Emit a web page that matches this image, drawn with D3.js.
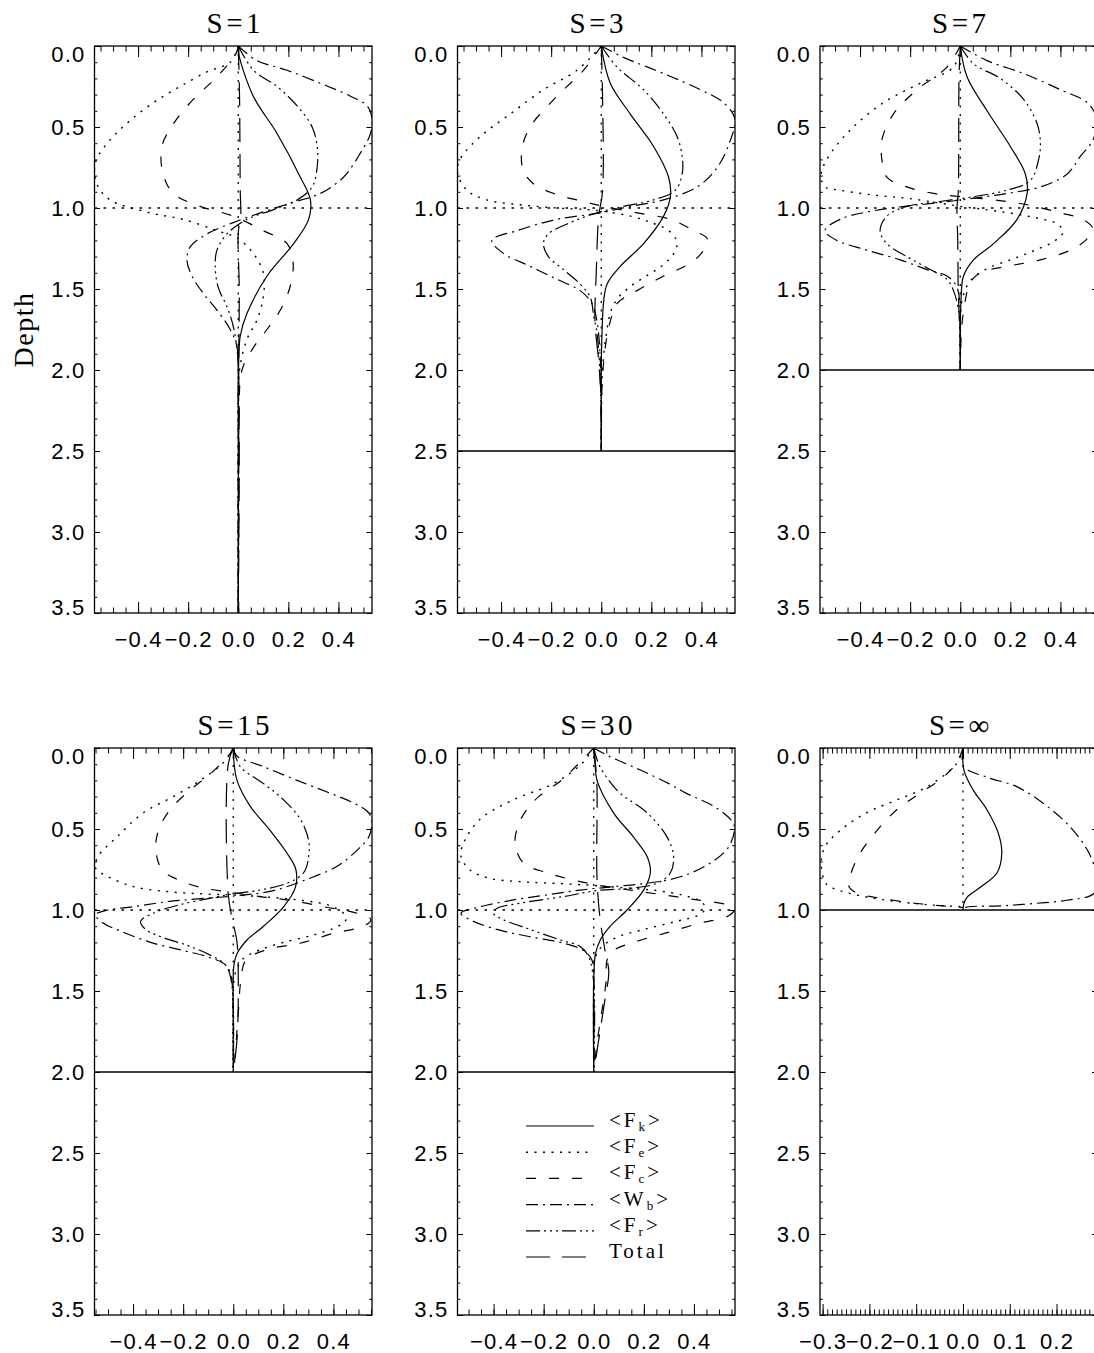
<!DOCTYPE html>
<html lang="en">
<head>
<meta charset="UTF-8">
<script src="https://d3js.org/d3.v7.min.js"></script>
<style>
  body { margin: 0; background: #fff; }
  svg { display: block; }
</style>
</head>
<body>
<svg id="chart" width="1094" height="1353"></svg>
<script>
// ---- data: [depth, value] pairs ----
const s1Fk = [[0,0],[0.05,0.002],[0.31,0.06],[0.54,0.155],[0.81,0.248],[0.95,0.288],[1.07,0.281],[1.22,0.221],[1.42,0.115],[1.65,0.035],[1.79,0.008],[2.0,0.001],[2.6,0],[3.5,0]];
const s1Fe = [[0,0],[0.1,-0.032],[0.16,-0.125],[0.25,-0.232],[0.35,-0.339],[0.46,-0.432],[0.58,-0.512],[0.7,-0.566],[0.78,-0.574],[0.87,-0.559],[0.95,-0.512],[1.03,-0.352],[1.07,-0.22],[1.14,-0.085],[1.19,0],[1.28,0.06],[1.4,0.1],[1.55,0.1],[1.69,0.075],[1.81,0.035],[2.0,0.005],[2.4,0],[3.5,0]];
const s1Fc = [[0,0],[0.05,-0.01],[0.19,-0.085],[0.33,-0.18],[0.48,-0.259],[0.62,-0.305],[0.79,-0.3],[0.91,-0.259],[0.99,-0.152],[1.05,-0.02],[1.14,0.1],[1.22,0.195],[1.34,0.219],[1.48,0.208],[1.63,0.168],[1.75,0.115],[1.86,0.061],[2.0,0.015],[2.3,0.003],[3.5,0]];
const s1Wb = [[0,0],[0.09,0.075],[0.15,0.195],[0.23,0.328],[0.31,0.448],[0.37,0.515],[0.45,0.534],[0.54,0.528],[0.66,0.488],[0.81,0.42],[0.91,0.328],[0.97,0.208],[1.03,0.088],[1.09,-0.02],[1.16,-0.125],[1.24,-0.192],[1.32,-0.205],[1.42,-0.185],[1.53,-0.138],[1.63,-0.085],[1.75,-0.032],[1.85,-0.006],[2.0,0],[3.5,0]];
const s1Fr = [[0,0],[0.15,0.061],[0.25,0.155],[0.37,0.235],[0.5,0.295],[0.62,0.315],[0.75,0.315],[0.87,0.295],[0.95,0.235],[1.01,0.141],[1.07,0.035],[1.16,-0.045],[1.26,-0.085],[1.36,-0.092],[1.49,-0.08],[1.61,-0.045],[1.73,-0.02],[1.9,-0.003],[2.2,0],[3.5,0]];
const s1Tot = [[0,0],[0.3,0.005],[0.9,0.008],[1.05,0.01],[1.15,0],[1.5,0.004],[2.0,0.002],[2.5,0.004],[3.5,0]];

const s3Fk = [[0,0],[0.23,0.036],[0.42,0.116],[0.62,0.209],[0.81,0.269],[0.93,0.276],[1.05,0.249],[1.22,0.169],[1.36,0.076],[1.47,0.023],[1.57,0.01],[1.77,0.003],[2.0,0],[2.5,0]];
const s3Fe = [[0,0],[0.15,-0.097],[0.27,-0.231],[0.42,-0.364],[0.56,-0.484],[0.7,-0.564],[0.78,-0.574],[0.89,-0.537],[0.95,-0.457],[0.98,-0.324],[1.0,-0.177],[1.01,-0.057],[1.02,0.01],[1.05,0.116],[1.09,0.2],[1.14,0.27],[1.2,0.3],[1.25,0.3],[1.3,0.28],[1.36,0.24],[1.42,0.18],[1.48,0.12],[1.55,0.07],[1.63,0.04],[1.78,0.02],[2.0,0.005],[2.5,0]];
const s3Fc = [[0,0],[0.15,-0.071],[0.31,-0.177],[0.5,-0.284],[0.64,-0.317],[0.77,-0.311],[0.85,-0.271],[0.91,-0.191],[0.96,-0.071],[0.99,0.01],[1.03,0.143],[1.07,0.276],[1.14,0.369],[1.19,0.423],[1.26,0.409],[1.34,0.356],[1.42,0.249],[1.51,0.143],[1.59,0.063],[1.7,0.036],[1.86,0.016],[2.1,0.003],[2.5,0]];
const s3Wb = [[0,0],[0.07,0.089],[0.17,0.249],[0.27,0.396],[0.35,0.489],[0.45,0.534],[0.58,0.516],[0.75,0.463],[0.87,0.383],[0.95,0.249],[0.99,0.116],[1.03,-0.004],[1.07,-0.177],[1.14,-0.337],[1.2,-0.437],[1.28,-0.391],[1.36,-0.284],[1.44,-0.177],[1.51,-0.084],[1.59,-0.037],[1.7,-0.017],[2.0,-0.002],[2.5,0]];
const s3Fr = [[0,0],[0.13,0.063],[0.27,0.169],[0.42,0.249],[0.56,0.303],[0.68,0.323],[0.79,0.323],[0.89,0.296],[0.95,0.209],[0.99,0.089],[1.03,-0.017],[1.09,-0.124],[1.16,-0.211],[1.22,-0.231],[1.3,-0.211],[1.38,-0.151],[1.47,-0.084],[1.55,-0.044],[1.67,-0.03],[1.77,-0.017],[2.1,-0.003],[2.5,0]];
const s3Tot = [[0,0],[0.3,0.005],[0.9,0.005],[1.05,-0.01],[1.4,-0.02],[1.7,-0.025],[1.95,-0.01],[2.2,0],[2.5,0]];

const s7Fk = [[0,0],[0.19,0.027],[0.4,0.107],[0.62,0.2],[0.79,0.26],[0.91,0.267],[1.07,0.227],[1.22,0.133],[1.32,0.053],[1.42,0.013],[1.57,0.003],[1.8,0],[2.0,0]];
const s7Fe = [[0,0],[0.13,-0.027],[0.23,-0.16],[0.35,-0.307],[0.52,-0.44],[0.7,-0.533],[0.8,-0.556],[0.87,-0.54],[0.89,-0.48],[0.92,-0.347],[0.94,-0.213],[0.97,-0.08],[0.99,0],[1.02,0.15],[1.06,0.3],[1.1,0.39],[1.15,0.41],[1.2,0.38],[1.26,0.3],[1.32,0.2],[1.38,0.1],[1.45,0.04],[1.55,0.01],[1.7,0],[2.0,0]];
const s7Fc = [[0,0],[0.13,-0.053],[0.27,-0.173],[0.42,-0.267],[0.58,-0.313],[0.7,-0.313],[0.81,-0.293],[0.87,-0.213],[0.91,-0.107],[0.93,0],[0.95,0.133],[0.98,0.267],[1.03,0.4],[1.07,0.49],[1.13,0.53],[1.2,0.5],[1.26,0.44],[1.32,0.32],[1.36,0.187],[1.4,0.08],[1.46,0.04],[1.57,0.02],[1.75,0.005],[2.0,0]];
const s7Wb = [[0,0],[0.09,0.107],[0.17,0.253],[0.27,0.4],[0.35,0.507],[0.45,0.545],[0.58,0.53],[0.68,0.48],[0.79,0.427],[0.87,0.32],[0.91,0.187],[0.94,0.053],[0.97,-0.1],[1.01,-0.32],[1.07,-0.48],[1.14,-0.54],[1.2,-0.493],[1.26,-0.373],[1.32,-0.24],[1.38,-0.133],[1.42,-0.053],[1.49,-0.013],[1.7,0],[2.0,0]];
const s7Fr = [[0,0],[0.11,0.053],[0.2,0.16],[0.33,0.253],[0.48,0.307],[0.6,0.32],[0.7,0.313],[0.83,0.28],[0.89,0.187],[0.93,0.053],[0.96,-0.08],[0.99,-0.213],[1.05,-0.293],[1.14,-0.32],[1.22,-0.293],[1.3,-0.213],[1.38,-0.12],[1.44,-0.053],[1.51,-0.027],[1.63,-0.007],[1.8,0],[2.0,0]];
const s7Tot = [[0,0],[0.2,-0.005],[0.9,-0.008],[1.0,-0.013],[1.2,-0.01],[1.5,-0.008],[1.85,0],[2.0,0]];

const s15Fk = [[0,0],[0.03,0],[0.2,0.015],[0.36,0.068],[0.51,0.148],[0.65,0.215],[0.75,0.25],[0.86,0.248],[0.98,0.201],[1.1,0.121],[1.185,0.055],[1.27,0.015],[1.35,0.002],[1.64,0],[2.0,0]];
const s15Fe = [[0,0],[0.09,-0.039],[0.2,-0.132],[0.3,-0.239],[0.4,-0.359],[0.55,-0.465],[0.67,-0.54],[0.74,-0.55],[0.79,-0.505],[0.855,-0.4],[0.886,-0.265],[0.9,-0.132],[0.907,0],[0.92,0.133],[0.94,0.27],[0.97,0.38],[1.02,0.44],[1.06,0.45],[1.1,0.42],[1.15,0.33],[1.2,0.2],[1.25,0.1],[1.3,0.04],[1.38,0.01],[1.5,0],[2.0,0]];
const s15Fc = [[0,0],[0.05,-0.02],[0.16,-0.092],[0.26,-0.172],[0.38,-0.252],[0.51,-0.299],[0.63,-0.309],[0.75,-0.285],[0.81,-0.225],[0.86,-0.132],[0.89,-0.012],[0.92,0.121],[0.94,0.228],[0.98,0.361],[1.02,0.495],[1.06,0.55],[1.1,0.52],[1.144,0.4],[1.205,0.267],[1.245,0.133],[1.31,0.05],[1.44,0.03],[1.64,0.02],[1.94,0.005],[2.0,0]];
const s15Wb = [[0,0],[0.05,0.015],[0.115,0.121],[0.2,0.255],[0.28,0.388],[0.34,0.481],[0.4,0.541],[0.46,0.553],[0.55,0.541],[0.63,0.495],[0.73,0.415],[0.81,0.295],[0.88,0.161],[0.91,0.028],[0.93,-0.13],[0.95,-0.27],[0.98,-0.4],[1.0,-0.5],[1.03,-0.55],[1.08,-0.52],[1.13,-0.45],[1.2,-0.33],[1.25,-0.2],[1.29,-0.1],[1.34,-0.03],[1.4,-0.01],[1.6,0],[2.0,0]];
const s15Fr = [[0,0],[0.115,0.028],[0.22,0.121],[0.32,0.201],[0.44,0.268],[0.57,0.301],[0.67,0.301],[0.77,0.281],[0.835,0.215],[0.88,0.095],[0.9,0],[0.93,-0.1],[0.97,-0.22],[1.02,-0.32],[1.07,-0.37],[1.12,-0.35],[1.17,-0.28],[1.22,-0.18],[1.28,-0.09],[1.34,-0.03],[1.42,-0.01],[1.6,0],[2.0,0]];
const s15Tot = [[0,0],[0.1,-0.02],[0.9,-0.02],[1.05,-0.005],[1.2,0.015],[1.5,0.02],[1.8,0.015],[2.0,0]];

const s30Fk = [[0,0],[0.1,0.005],[0.2,0.013],[0.4,0.079],[0.55,0.159],[0.67,0.213],[0.77,0.226],[0.877,0.199],[1.0,0.133],[1.1,0.066],[1.185,0.026],[1.27,0.007],[1.43,0],[2.0,0]];
const s30Fe = [[0,0],[0.1,-0.05],[0.22,-0.161],[0.32,-0.321],[0.44,-0.454],[0.59,-0.521],[0.67,-0.53],[0.753,-0.494],[0.805,-0.414],[0.825,-0.294],[0.835,-0.161],[0.846,-0.027],[0.86,0.1],[0.88,0.25],[0.91,0.36],[0.95,0.43],[0.99,0.446],[1.03,0.42],[1.07,0.33],[1.12,0.2],[1.17,0.09],[1.23,0.03],[1.3,0.005],[1.45,0],[2.0,0]];
const s30Fc = [[0,0],[0.08,-0.05],[0.2,-0.13],[0.3,-0.22],[0.38,-0.267],[0.47,-0.3],[0.59,-0.314],[0.71,-0.281],[0.77,-0.187],[0.815,-0.081],[0.846,0.013],[0.877,0.146],[0.907,0.279],[0.938,0.413],[0.969,0.533],[1.0,0.56],[1.04,0.533],[1.08,0.426],[1.14,0.293],[1.2,0.159],[1.25,0.079],[1.31,0.053],[1.43,0.05],[1.6,0.035],[1.8,0.015],[2.0,0]];
const s30Wb = [[0,0],[0.05,0.06],[0.136,0.186],[0.22,0.3],[0.28,0.37],[0.36,0.479],[0.44,0.546],[0.49,0.562],[0.61,0.539],[0.71,0.466],[0.795,0.346],[0.835,0.213],[0.856,0.079],[0.877,-0.054],[0.907,-0.187],[0.938,-0.321],[0.98,-0.454],[1.02,-0.53],[1.06,-0.494],[1.12,-0.387],[1.165,-0.254],[1.205,-0.121],[1.25,-0.041],[1.31,-0.007],[1.45,0],[2.0,0]];
const s30Fr = [[0,0],[0.1,0.02],[0.2,0.06],[0.28,0.106],[0.4,0.213],[0.55,0.293],[0.67,0.319],[0.77,0.306],[0.835,0.253],[0.866,0.146],[0.88,0.013],[0.917,-0.121],[0.958,-0.294],[0.99,-0.387],[1.02,-0.401],[1.06,-0.361],[1.12,-0.254],[1.185,-0.134],[1.225,-0.054],[1.29,-0.02],[1.45,0],[2.0,0]];
const s30Tot = [[0,0],[0.2,0.012],[0.8,0.013],[1.05,0.025],[1.25,0.045],[1.38,0.06],[1.55,0.045],[1.75,0.025],[1.9,0.01],[2.0,0]];

const sInfFk = [[0,0],[0.136,0.002],[0.26,0.022],[0.38,0.051],[0.53,0.076],[0.65,0.083],[0.77,0.073],[0.86,0.037],[0.92,0.009],[0.96,0.002],[1.0,0]];
const sInfFe = [[0,0],[0.094,-0.013],[0.24,-0.077],[0.32,-0.141],[0.4,-0.206],[0.51,-0.263],[0.61,-0.295],[0.71,-0.303],[0.84,-0.292],[0.88,-0.263],[0.92,-0.206],[0.95,-0.134],[0.97,-0.063],[0.98,0]];
const sInfFc = [[0,0],[0.09,-0.013],[0.18,-0.042],[0.28,-0.092],[0.38,-0.141],[0.51,-0.184],[0.65,-0.22],[0.79,-0.241],[0.86,-0.243],[0.9,-0.223],[0.93,-0.17],[0.96,-0.099],[0.975,-0.042],[0.985,0]];
const sInfWb = [[0,0],[0.115,0.002],[0.18,0.051],[0.24,0.116],[0.36,0.18],[0.49,0.23],[0.63,0.266],[0.75,0.283],[0.82,0.287],[0.9,0.279],[0.94,0.222],[0.96,0.151],[0.975,0.08],[0.985,0.005],[1.0,0]];

const titles = ["S=1", "S=3", "S=7", "S=15", "S=30", "S=\u221e"];
const bottomDepth = [3.5, 2.5, 2.0, 2.0, 2.0, 1.0];
const xDomains = [[-0.574, 0.534], [-0.574, 0.534], [-0.56, 0.548], [-0.554, 0.554], [-0.544, 0.564], [-0.3056, 0.2876]];
const xMajor = [0.2, 0.2, 0.2, 0.2, 0.2, 0.1];
const xMinor = [0.05, 0.05, 0.05, 0.05, 0.05, 0.01];
const seriesKeys = ["Fk", "Fe", "Fc", "Wb", "Fr", "Tot"];
const legendLabels = [["F", "k"], ["F", "e"], ["F", "c"], ["W", "b"], ["F", "r"], ["Total", null]];

// table of panels built from the arrays above
const panelSeries = [
  {Fk: s1Fk, Fe: s1Fe, Fc: s1Fc, Wb: s1Wb, Fr: s1Fr, Tot: s1Tot},
  {Fk: s3Fk, Fe: s3Fe, Fc: s3Fc, Wb: s3Wb, Fr: s3Fr, Tot: s3Tot},
  {Fk: s7Fk, Fe: s7Fe, Fc: s7Fc, Wb: s7Wb, Fr: s7Fr, Tot: s7Tot},
  {Fk: s15Fk, Fe: s15Fe, Fc: s15Fc, Wb: s15Wb, Fr: s15Fr, Tot: s15Tot},
  {Fk: s30Fk, Fe: s30Fe, Fc: s30Fc, Wb: s30Wb, Fr: s30Fr, Tot: s30Tot},
  {Fk: sInfFk, Fe: sInfFe, Fc: sInfFc, Wb: sInfWb}
];

// line styles (IDL linestyles 0-5)
const dashes = {
  Fk: null,
  Fe: "2,6.5",
  Fc: "10,13",
  Wb: "12,5,2,5",
  Fr: "14,4,2,4,2,4,2,4",
  Tot: "24,12"
};

// ---- layout ----
const colX = [94.5, 457.5, 820];
const rowY = [46, 748];
const pw = 277.5, ph = 567;
const serif = "'Liberation Serif', 'Times New Roman', serif";
const sans = "'Liberation Sans', Arial, sans-serif";

const svg = d3.select("#chart");
const fmt = d3.format(".1f");

function stepTicks(domain, step) {
  const lo = Math.ceil(domain[0] / step - 1e-6), hi = Math.floor(domain[1] / step + 1e-6);
  return d3.range(lo, hi + 1).map(k => +(k * step).toFixed(4));
}

titles.forEach((title, i) => {
  const col = i % 3, row = Math.floor(i / 3);
  const g = svg.append("g").attr("transform", `translate(${colX[col]},${rowY[row]})`);

  const x = d3.scaleLinear().domain(xDomains[i]).range([0, pw]);
  const y = d3.scaleLinear().domain([0, 3.5]).range([0, ph]);

  const clipId = "clip" + i;
  g.append("clipPath").attr("id", clipId)
    .append("rect").attr("width", pw).attr("height", ph);

  // axes, ticks pointing inward on all four sides
  const yMaj = d3.range(0, 3.51, 0.5), yMin = d3.range(0, 3.51, 0.1);
  const xMaj = stepTicks(xDomains[i], xMajor[i]), xMin = stepTicks(xDomains[i], xMinor[i]);

  function axis(gen, vals, size, labels, pad) {
    const a = gen.tickValues(vals).tickSize(-size).tickSizeOuter(0)
      .tickFormat(labels ? fmt : "");
    if (pad !== undefined) a.tickPadding(pad);
    return a;
  }
  const axes = g.append("g");
  axes.append("g").call(axis(d3.axisLeft(y), yMin, 2.8, false));
  const yLab = axes.append("g").call(axis(d3.axisLeft(y), yMaj, 5.5, true, 9));
  axes.append("g").attr("transform", `translate(${pw},0)`).call(axis(d3.axisRight(y), yMin, 2.8, false));
  axes.append("g").attr("transform", `translate(${pw},0)`).call(axis(d3.axisRight(y), yMaj, 5.5, false));
  axes.append("g").call(axis(d3.axisTop(x), xMin, 5.5, false));
  axes.append("g").call(axis(d3.axisTop(x), xMaj, 11, false));
  axes.append("g").attr("transform", `translate(0,${ph})`).call(axis(d3.axisBottom(x), xMin, 5.5, false));
  axes.append("g").attr("transform", `translate(0,${ph})`).call(axis(d3.axisBottom(x), xMaj, 11, true, 18));
  axes.selectAll(".domain").remove();
  axes.selectAll(".tick line").attr("stroke", "#000").attr("stroke-width", 1);
  axes.selectAll(".tick text").attr("fill", "#000")
    .attr("font-family", sans).attr("font-size", 22).attr("letter-spacing", 1.2);
  // end labels sit a little inside the axis, as in the original plot
  yLab.selectAll(".tick text").attr("y", d => d === 0 ? 8 : (d === 3.5 ? -6 : 0));

  g.append("rect").attr("width", pw).attr("height", ph)
    .attr("fill", "none").attr("stroke", "#000").attr("stroke-width", 1.3);

  // reference lines: zero line, interface, lower boundary
  const H = bottomDepth[i];
  const refs = g.append("g").attr("clip-path", `url(#${clipId})`).attr("fill", "none");
  refs.append("line").attr("x1", x(0)).attr("x2", x(0)).attr("y1", y(0)).attr("y2", y(H))
    .attr("stroke", "#000").attr("stroke-width", 1.3).attr("stroke-dasharray", "2,6.5");
  if (H > 1) {
    refs.append("line").attr("x1", 0).attr("x2", pw).attr("y1", y(1)).attr("y2", y(1))
      .attr("stroke", "#000").attr("stroke-width", 1.3).attr("stroke-dasharray", "2.5,6.5");
  }
  if (H < 3.5) {
    refs.append("line").attr("x1", 0).attr("x2", pw).attr("y1", y(H)).attr("y2", y(H))
      .attr("stroke", "#000").attr("stroke-width", 1.3);
  }

  // profiles
  const line = d3.line().x(d => x(d[1])).y(d => y(d[0])).curve(d3.curveCatmullRom.alpha(0.5));
  const curves = g.append("g").attr("clip-path", `url(#${clipId})`);
  seriesKeys.forEach(k => {
    const data = panelSeries[i][k];
    if (!data) return;
    curves.append("path").datum(data)
      .attr("d", line)
      .attr("fill", "none")
      .attr("stroke", "#000")
      .attr("stroke-width", k === "Fe" ? 1.4 : 1.2)
      .attr("stroke-dasharray", dashes[k]);
  });

  // title
  g.append("text").attr("x", pw / 2 + 2).attr("y", -13)
    .attr("text-anchor", "middle").attr("font-family", serif)
    .attr("font-size", 29).attr("letter-spacing", 3.5)
    .text(title);

  if (i === 0) {
    g.append("text")
      .attr("transform", `translate(${-62},${ph / 2}) rotate(-90)`)
      .attr("text-anchor", "middle").attr("font-family", serif).attr("font-size", 28)
      .attr("letter-spacing", 1.5)
      .text("Depth");
  }

  // legend sits inside the S=30 panel
  if (i === 4) {
    const lg = svg.append("g").attr("transform", "translate(526,1126)");
    seriesKeys.forEach((k, j) => {
      const yy = j * 26.2;
      lg.append("line").attr("x1", 0).attr("x2", 68).attr("y1", yy).attr("y2", yy)
        .attr("stroke", "#000").attr("stroke-width", k === "Fe" ? 1.4 : 1.2)
        .attr("stroke-dasharray", dashes[k]);
      const t = lg.append("text").attr("x", 83).attr("y", yy + 1)
        .attr("font-family", serif).attr("font-size", 21).attr("letter-spacing", 3);
      const [main, sub] = legendLabels[j];
      if (sub) {
        t.append("tspan").text("<" + main);
        t.append("tspan").attr("dy", 4).attr("font-size", 13).text(sub);
        t.append("tspan").attr("dy", -4).text(">");
      } else {
        t.text(main);
      }
    });
  }
});
</script>
</body>
</html>
